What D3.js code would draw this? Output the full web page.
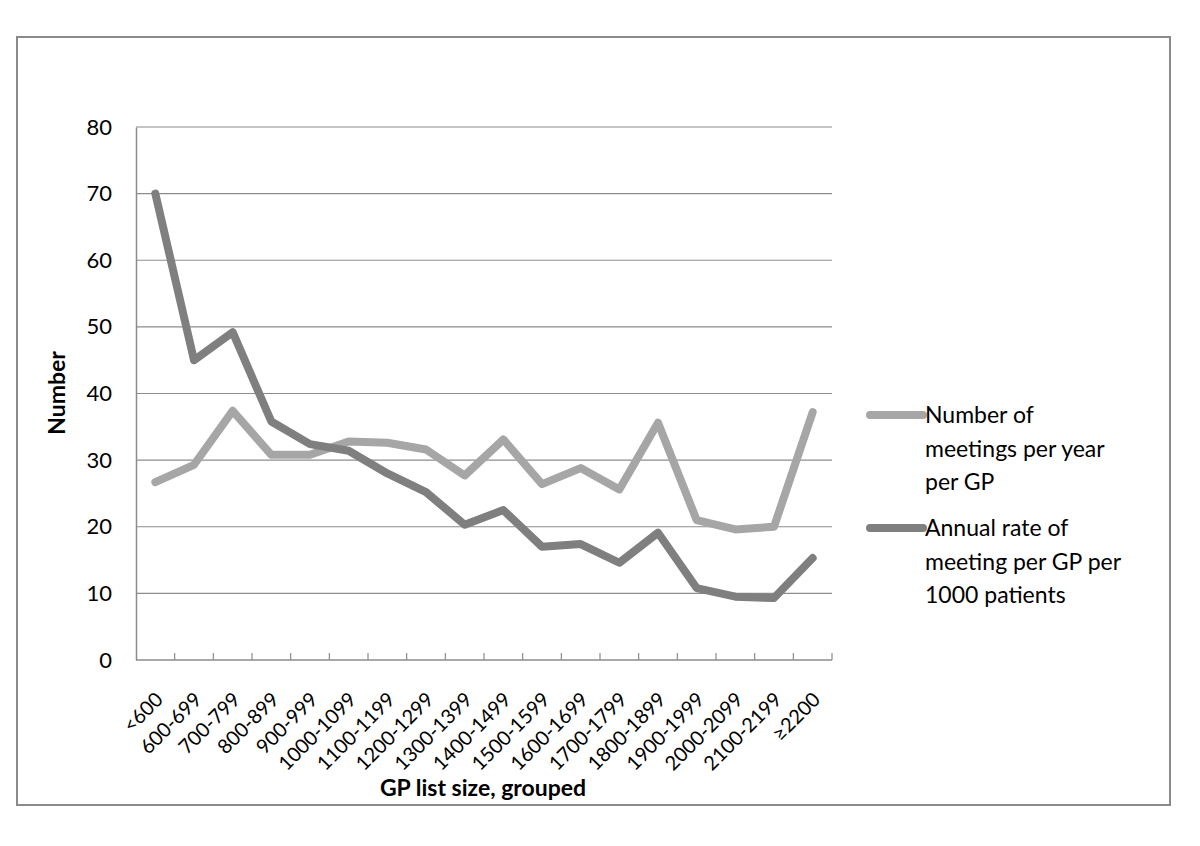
<!DOCTYPE html>
<html>
<head>
<meta charset="utf-8">
<script src="https://cdn.jsdelivr.net/npm/d3@7"></script>
<style>
  body { margin: 0; background: #fff; }
</style>
</head>
<body>
<div id="chart"></div>
<script>
// data
var categories = ["<600", "600-699", "700-799", "800-899", "900-999", "1000-1099", "1100-1199",
  "1200-1299", "1300-1399", "1400-1499", "1500-1599", "1600-1699", "1700-1799", "1800-1899",
  "1900-1999", "2000-2099", "2100-2199", "\u22652200"];
var meetingsPerYear = [26.7, 29.3, 37.4, 30.8, 30.8, 32.8, 32.6, 31.6, 27.7, 33.1, 26.4, 28.8,
  25.6, 35.6, 21.0, 19.6, 20.0, 37.2];
var ratePer1000 = [70.0, 45.0, 49.2, 35.8, 32.4, 31.4, 28.0, 25.2, 20.3, 22.5, 17.0, 17.4,
  14.6, 19.1, 10.8, 9.5, 9.3, 15.3];
var yTicks = [0, 10, 20, 30, 40, 50, 60, 70, 80];
var seriesNames = [
  ["Number of", "meetings per year", "per GP"],
  ["Annual rate of", "meeting per GP per", "1000 patients"]
];

var svgWidth = 1200, svgHeight = 846;
var margin = { top: 127, left: 136 };
var width = 696, height = 533;

var svg = d3.select("#chart").append("svg")
  .attr("width", svgWidth)
  .attr("height", svgHeight);

// outer frame
svg.append("rect")
  .attr("x", 17).attr("y", 37)
  .attr("width", 1153).attr("height", 768)
  .attr("fill", "none")
  .attr("stroke", "#8a8a8a")
  .attr("stroke-width", 2);

var chartGroup = svg.append("g")
  .attr("transform", `translate(${margin.left}, ${margin.top})`);

var x = d3.scaleBand().domain(categories).range([0, width]);
var y = d3.scaleLinear().domain([0, 80]).range([height, 0]);

// gridlines
chartGroup.selectAll(".grid")
  .data(yTicks.slice(1))
  .enter().append("line")
  .attr("x1", 0).attr("x2", width)
  .attr("y1", d => y(d)).attr("y2", d => y(d))
  .attr("stroke", "#8c8c8c")
  .attr("stroke-width", 1.2);

// y axis
var leftAxis = d3.axisLeft(y).tickValues(yTicks).tickSize(0).tickPadding(24);
var gy = chartGroup.append("g").call(leftAxis);
gy.select(".domain").attr("stroke", "#8c8c8c").attr("stroke-width", 1.5);
gy.selectAll("text")
  .attr("font-family", "Lato, sans-serif")
  .attr("font-size", "22px")
  .attr("fill", "#000");

// x axis, ticks pointing into the plot at category boundaries
var gx = chartGroup.append("g").attr("transform", `translate(0, ${height})`);
gx.append("line")
  .attr("x1", 0).attr("x2", width)
  .attr("stroke", "#8c8c8c").attr("stroke-width", 1.5);
gx.selectAll(".tick")
  .data(categories)
  .enter().append("line")
  .attr("x1", d => x(d) + x.bandwidth()).attr("x2", d => x(d) + x.bandwidth())
  .attr("y1", 0).attr("y2", -7)
  .attr("stroke", "#8c8c8c").attr("stroke-width", 1.2);
gx.selectAll(".lbl")
  .data(categories)
  .enter().append("text")
  .attr("transform", d => `translate(${x(d) + x.bandwidth() / 2 - 1}, 31) rotate(-45)`)
  .attr("text-anchor", "end")
  .attr("dy", "0.7em")
  .attr("font-family", "Lato, sans-serif")
  .attr("font-size", "20px")
  .attr("fill", "#000")
  .text(d => d);

// lines
var line = d3.line()
  .x((d, i) => x(categories[i]) + x.bandwidth() / 2)
  .y(d => y(d));

var colors = ["#a6a6a6", "#7f7f7f"];
[meetingsPerYear, ratePer1000].forEach(function (s, k) {
  chartGroup.append("path")
    .datum(s)
    .attr("d", line)
    .attr("fill", "none")
    .attr("stroke", colors[k])
    .attr("stroke-width", 8)
    .attr("stroke-linejoin", "round")
    .attr("stroke-linecap", "round");
});

// axis titles
svg.append("text")
  .attr("transform", "translate(65, 393) rotate(-90)")
  .attr("text-anchor", "middle")
  .attr("font-family", "Lato, sans-serif")
  .attr("font-weight", "bold")
  .attr("font-size", "23px")
  .text("Number");

svg.append("text")
  .attr("x", 483).attr("y", 796)
  .attr("text-anchor", "middle")
  .attr("font-family", "Lato, sans-serif")
  .attr("font-weight", "bold")
  .attr("font-size", "23px")
  .text("GP list size, grouped");

// legend
var legendY = [415, 528];
seriesNames.forEach(function (lines, k) {
  var g = svg.append("g").attr("transform", `translate(870, ${legendY[k]})`);
  g.append("line")
    .attr("x1", 0).attr("x2", 53)
    .attr("stroke", colors[k]).attr("stroke-width", 8)
    .attr("stroke-linecap", "round");
  g.selectAll("text")
    .data(lines)
    .enter().append("text")
    .attr("x", 55)
    .attr("y", (d, i) => i * 33.5)
    .attr("dy", "0.35em")
    .attr("font-family", "Lato, sans-serif")
    .attr("font-size", "23px")
    .attr("fill", "#000")
    .text(d => d);
});
</script>
</body>
</html>
